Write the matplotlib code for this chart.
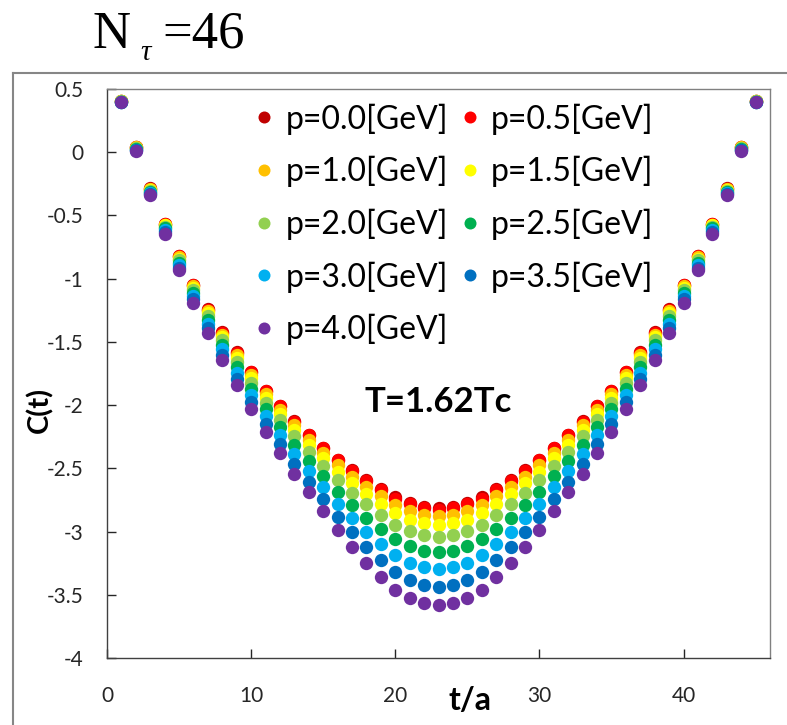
import matplotlib
matplotlib.use("Agg")
import matplotlib.pyplot as plt
from matplotlib.lines import Line2D

plt.rcParams['font.family'] = ['Lato', 'DejaVu Sans']

t = list(range(1, 46))

p00 = [0.405, 0.042, -0.286, -0.565, -0.823, -1.048, -1.242, -1.425, -1.583, -1.735, -1.885, -2.006,
       -2.125, -2.235, -2.336, -2.431, -2.516, -2.594, -2.665, -2.730, -2.777, -2.805, -2.817,
       -2.805, -2.777, -2.730, -2.665, -2.594, -2.516, -2.431, -2.336, -2.235, -2.125, -2.006,
       -1.885, -1.735, -1.583, -1.425, -1.242, -1.048, -0.823, -0.565, -0.286, 0.042, 0.405]
p05 = [0.405, 0.042, -0.287, -0.566, -0.824, -1.050, -1.244, -1.428, -1.586, -1.739, -1.889, -2.010,
       -2.130, -2.240, -2.342, -2.438, -2.523, -2.602, -2.673, -2.739, -2.786, -2.814, -2.826,
       -2.814, -2.786, -2.739, -2.673, -2.602, -2.523, -2.438, -2.342, -2.240, -2.130, -2.010,
       -1.889, -1.739, -1.586, -1.428, -1.244, -1.050, -0.824, -0.566, -0.287, 0.042, 0.405]
p10 = [0.404, 0.040, -0.291, -0.572, -0.832, -1.060, -1.257, -1.443, -1.604, -1.759, -1.912, -2.036,
       -2.159, -2.272, -2.377, -2.477, -2.565, -2.647, -2.721, -2.790, -2.838, -2.867, -2.879,
       -2.867, -2.838, -2.790, -2.721, -2.647, -2.565, -2.477, -2.377, -2.272, -2.159, -2.036,
       -1.912, -1.759, -1.604, -1.443, -1.257, -1.060, -0.832, -0.572, -0.291, 0.040, 0.404]
p15 = [0.403, 0.037, -0.296, -0.579, -0.842, -1.072, -1.273, -1.462, -1.627, -1.786, -1.940, -2.069,
       -2.196, -2.312, -2.421, -2.526, -2.619, -2.705, -2.782, -2.854, -2.905, -2.935, -2.947,
       -2.935, -2.905, -2.854, -2.782, -2.705, -2.619, -2.526, -2.421, -2.312, -2.196, -2.069,
       -1.940, -1.786, -1.627, -1.462, -1.273, -1.072, -0.842, -0.579, -0.296, 0.037, 0.403]
p20 = [0.402, 0.032, -0.303, -0.590, -0.855, -1.090, -1.296, -1.489, -1.658, -1.822, -1.981, -2.116,
       -2.248, -2.368, -2.483, -2.595, -2.693, -2.786, -2.868, -2.945, -2.998, -3.029, -3.041,
       -3.029, -2.998, -2.945, -2.868, -2.786, -2.693, -2.595, -2.483, -2.368, -2.248, -2.116,
       -1.981, -1.822, -1.658, -1.489, -1.296, -1.090, -0.855, -0.590, -0.303, 0.032, 0.402]
p25 = [0.401, 0.027, -0.312, -0.603, -0.873, -1.112, -1.325, -1.523, -1.699, -1.869, -2.032, -2.175,
       -2.315, -2.440, -2.561, -2.684, -2.789, -2.889, -2.977, -3.060, -3.116, -3.150, -3.162,
       -3.150, -3.116, -3.060, -2.977, -2.889, -2.789, -2.684, -2.561, -2.440, -2.315, -2.175,
       -2.032, -1.869, -1.699, -1.523, -1.325, -1.112, -0.873, -0.603, -0.312, 0.027, 0.401]
p30 = [0.399, 0.021, -0.321, -0.618, -0.892, -1.137, -1.357, -1.560, -1.744, -1.919, -2.088, -2.239,
       -2.387, -2.519, -2.648, -2.780, -2.893, -3.001, -3.097, -3.186, -3.246, -3.282, -3.294,
       -3.282, -3.246, -3.186, -3.097, -3.001, -2.893, -2.780, -2.648, -2.519, -2.387, -2.239,
       -2.088, -1.919, -1.744, -1.560, -1.357, -1.137, -0.892, -0.618, -0.321, 0.021, 0.399]
p35 = [0.397, 0.014, -0.332, -0.634, -0.913, -1.163, -1.391, -1.601, -1.792, -1.975, -2.149, -2.310,
       -2.466, -2.605, -2.741, -2.885, -3.007, -3.124, -3.227, -3.323, -3.387, -3.425, -3.437,
       -3.425, -3.387, -3.323, -3.227, -3.124, -3.007, -2.885, -2.741, -2.605, -2.466, -2.310,
       -2.149, -1.975, -1.792, -1.601, -1.391, -1.163, -0.913, -0.634, -0.332, 0.014, 0.397]
p40 = [0.395, 0.008, -0.342, -0.650, -0.934, -1.190, -1.426, -1.641, -1.840, -2.030, -2.210, -2.380,
       -2.545, -2.690, -2.835, -2.990, -3.120, -3.246, -3.357, -3.460, -3.528, -3.568, -3.580,
       -3.568, -3.528, -3.460, -3.357, -3.246, -3.120, -2.990, -2.835, -2.690, -2.545, -2.380,
       -2.210, -2.030, -1.840, -1.641, -1.426, -1.190, -0.934, -0.650, -0.342, 0.008, 0.395]

series = [p00, p05, p10, p15, p20, p25, p30, p35, p40]
labels = ["p=0.0[GeV]", "p=0.5[GeV]", "p=1.0[GeV]", "p=1.5[GeV]", "p=2.0[GeV]",
          "p=2.5[GeV]", "p=3.0[GeV]", "p=3.5[GeV]", "p=4.0[GeV]"]
colors = ["#C00000", "#FF0000", "#FFC000", "#FFFF00", "#92D050",
          "#00B050", "#00B0F0", "#0070C0", "#7030A0"]

xticks = [0, 10, 20, 30, 40]
yticks = [0.5, 0, -0.5, -1, -1.5, -2, -2.5, -3, -3.5, -4]
ytick_labels = ["0.5", "0", "-0.5", "-1", "-1.5", "-2", "-2.5", "-3", "-3.5", "-4"]

W, H = 787, 725
fig = plt.figure(figsize=(W / 100, H / 100), dpi=100)
ax = fig.add_axes([107 / W, 1 - 658 / H, (770 - 107) / W, (658 - 89) / H])

handles = []
for s, lab, c in zip(series, labels, colors):
    h, = ax.plot(t, s, linestyle='none', marker='o', markersize=9.6,
                 markerfacecolor=c, markeredgewidth=0, label=lab)
    handles.append(h)

ax.set_xlim(0, 46)
ax.set_ylim(-4, 0.5)
ax.set_xticks(xticks)
ax.set_xticklabels([str(v) for v in xticks])
ax.set_yticks(yticks)
ax.set_yticklabels(ytick_labels)
ax.tick_params(axis='both', direction='in', length=6.5, width=1, labelsize=15, colors='#262626')
ax.tick_params(axis='y', pad=17)
ax.tick_params(axis='x', pad=20)
for side in ['left', 'bottom']:
    ax.spines[side].set_color('#404040')
    ax.spines[side].set_linewidth(1.0)
for side in ['top', 'right']:
    ax.spines[side].set_color('#808080')
    ax.spines[side].set_linewidth(1.0)

order = [0, 2, 4, 6, 8, 1, 3, 5, 7]
leg = ax.legend([handles[i] for i in order], [labels[i] for i in order], ncol=2,
                loc='upper left', bbox_to_anchor=(0.218, 0.975), frameon=False,
                fontsize=23, handlelength=0.8, handletextpad=0.26, columnspacing=0.28,
                labelspacing=0.67, borderpad=0, borderaxespad=0, markerscale=0.9)

ax.text(23.0, -2.053, "T=1.62Tc", ha='center', va='baseline', fontsize=25, fontweight='bold')

fig.text(40 / W, 1 - 410 / H, "C(t)", rotation=90, ha='center', va='center',
         fontsize=21, fontweight='bold')
fig.text(470 / W, 1 - 700 / H, "t/a", ha='center', va='center', fontsize=23, fontweight='bold')

serif = ['Liberation Serif', 'DejaVu Serif']
fig.text(92 / W, 1 - 48 / H, "N", ha='left', va='baseline', fontsize=38, family=serif)
fig.text(140 / W, 1 - 60 / H, "τ", ha='left', va='baseline', fontsize=21, family=serif, style='italic')
fig.text(162 / W, 1 - 48 / H, "=46", ha='left', va='baseline', fontsize=38, family=serif)

fig.add_artist(Line2D([13 / W, 1.0], [1 - 73 / H, 1 - 73 / H], transform=fig.transFigure,
                      color='#868686', linewidth=1.5))
fig.add_artist(Line2D([13 / W, 13 / W], [1 - 73 / H, 0.0], transform=fig.transFigure,
                      color='#868686', linewidth=1.5))

fig.savefig("out.png", dpi=100)
